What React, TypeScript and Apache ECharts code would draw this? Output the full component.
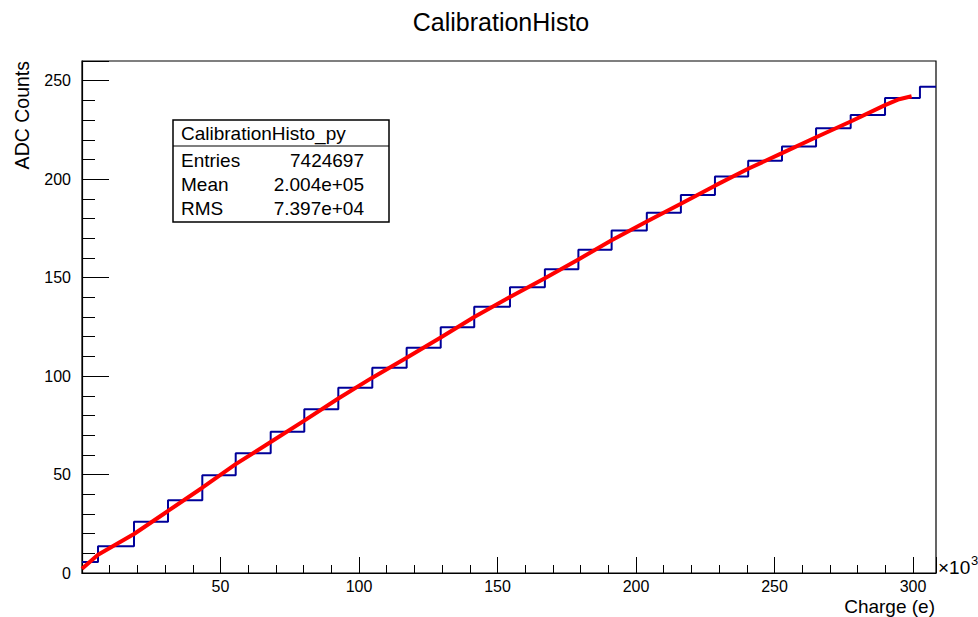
import React, { useEffect, useRef } from "react";
import * as echarts from "echarts";

// ---- Data (charge in units of 10^3 e, ADC counts) ----
const X_MIN = 0;
const X_MAX = 308.3;
const Y_MIN = 0;
const Y_MAX = 260;

// Step (histogram) edges along charge and ADC level of each step
const stepEdges = [5.78, 18.77, 31.05, 43.43, 55.49, 68.12, 80.25, 92.53, 104.8, 117.2, 129.5, 141.6, 154.5, 167.1, 179.2, 191.2, 203.9, 216.2, 228.5, 240.5, 252.7, 265.0, 277.5, 289.9, 302.5];
const stepLevels = [5.6, 13.6, 26.0, 37.0, 49.7, 60.8, 71.7, 83.1, 94.1, 104.2, 114.4, 124.8, 135.2, 145.1, 154.2, 164.1, 173.9, 183.0, 192.0, 201.3, 209.3, 216.6, 225.9, 232.6, 241.2, 246.9];

// Fit curve
const fitX = [0, 5.78, 18.77, 31.05, 43.43, 55.49, 68.12, 80.25, 92.53, 104.8, 117.2, 129.5, 141.6, 154.5, 167.1, 179.2, 191.2, 203.9, 216.2, 228.5, 240.5, 252.7, 265.0, 277.5, 289.9, 295.0, 299.5];
const fitY = [2.2, 9.3, 19.8, 31.5, 43.3, 55.3, 66.5, 77.4, 88.6, 99.2, 109.3, 119.6, 130.0, 140.2, 149.7, 159.2, 169.0, 178.5, 187.5, 196.7, 205.3, 213.2, 221.3, 229.3, 237.6, 240.6, 242.1];

const xTickStep = 50;
const yTickStep = 50;

const chartTitle = "CalibrationHisto";
const xTitle = "Charge (e)";
const yTitle = "ADC Counts";
const statsTitle = "CalibrationHisto_py";
const statsNames = ["Entries", "Mean", "RMS"];
const statsValues = ["7424697", "2.004e+05", "7.397e+04"];

const FONT = "'Liberation Sans', Arial, Helvetica, sans-serif";

export default function App() {
  const ref = useRef<HTMLDivElement>(null);

  useEffect(() => {
    if (!ref.current) return;
    const chart = echarts.init(ref.current, null, { renderer: "svg" });

    const stepData: number[][] = [[X_MIN, stepLevels[0]]];
    stepEdges.forEach((e, i) => stepData.push([e, stepLevels[i + 1]]));
    stepData.push([X_MAX, stepLevels[stepLevels.length - 1]]);

    const fitData = fitX.map((x, i) => [x, fitY[i]]);

    const boxX = 173, boxY = 120, boxW = 216, boxH = 102;
    const statsGraphics: any[] = [
      {
        type: "rect",
        shape: { x: boxX, y: boxY, width: boxW, height: boxH },
        style: { fill: "#fff", stroke: "#000", lineWidth: 1.5 },
        z: 10,
      },
      {
        type: "line",
        shape: { x1: boxX, y1: 146, x2: boxX + boxW, y2: 146 },
        style: { stroke: "#000", lineWidth: 1.2 },
        z: 11,
      },
      {
        type: "text",
        x: 181,
        y: 133,
        style: { text: statsTitle, font: `19px ${FONT}`, fill: "#000", align: "left", verticalAlign: "middle" },
        z: 11,
      },
    ];
    const rowY = [160, 184, 208];
    statsNames.forEach((n, i) => {
      statsGraphics.push({
        type: "text",
        x: 181,
        y: rowY[i],
        style: { text: n, font: `19px ${FONT}`, fill: "#000", align: "left", verticalAlign: "middle" },
        z: 11,
      });
      statsGraphics.push({
        type: "text",
        x: 364,
        y: rowY[i],
        style: { text: statsValues[i], font: `19px ${FONT}`, fill: "#000", align: "right", verticalAlign: "middle" },
        z: 11,
      });
    });

    chart.setOption({
      animation: false,
      backgroundColor: "#fff",
      grid: {
        left: 82,
        right: 42,
        top: 61,
        bottom: 44,
        show: true,
        borderColor: "#000",
        borderWidth: 1.2,
        containLabel: false,
        outerBoundsMode: "none",
      },
      xAxis: {
        type: "value",
        min: X_MIN,
        max: X_MAX,
        interval: xTickStep,
        axisLine: { show: true, lineStyle: { color: "#000", width: 1.2 } },
        axisTick: { show: true, inside: true, length: 16, lineStyle: { color: "#000", width: 1 } },
        minorTick: { show: true, splitNumber: 5, length: 8, lineStyle: { color: "#000", width: 1 } },
        splitLine: { show: false },
        minorSplitLine: { show: false },
        axisLabel: {
          show: true,
          margin: 5,
          fontSize: 16,
          color: "#000",
          fontFamily: FONT,
          showMaxLabel: false,
          formatter: (v: number) => (v > 0 && v % xTickStep === 0 ? String(v) : ""),
        },
      },
      yAxis: {
        type: "value",
        min: Y_MIN,
        max: Y_MAX,
        interval: yTickStep,
        axisLine: { show: true, lineStyle: { color: "#000", width: 1.2 } },
        axisTick: { show: true, inside: true, length: 27, lineStyle: { color: "#000", width: 1 } },
        minorTick: { show: true, splitNumber: 5, length: 13, lineStyle: { color: "#000", width: 1 } },
        splitLine: { show: false },
        minorSplitLine: { show: false },
        axisLabel: {
          show: true,
          margin: 11,
          fontSize: 16,
          color: "#000",
          fontFamily: FONT,
          showMaxLabel: false,
          formatter: (v: number) => (v % yTickStep === 0 ? String(v) : ""),
        },
      },
      series: [
        {
          type: "line",
          name: "histo",
          data: stepData,
          step: "end",
          showSymbol: false,
          symbol: "none",
          lineStyle: { color: "#000099", width: 2 },
          z: 2,
        },
        {
          type: "line",
          name: "fit",
          data: fitData,
          showSymbol: false,
          symbol: "none",
          smooth: false,
          lineStyle: { color: "#ff0000", width: 4 },
          z: 3,
        },
      ],
      graphic: [
        {
          type: "text",
          x: 501,
          y: 22,
          style: { text: chartTitle, font: `25px ${FONT}`, fill: "#000", align: "center", verticalAlign: "middle" },
        },
        {
          type: "text",
          x: 935,
          y: 606,
          style: { text: xTitle, font: `19px ${FONT}`, fill: "#000", align: "right", verticalAlign: "middle" },
        },
        {
          type: "text",
          x: 22,
          y: 61,
          rotation: Math.PI / 2,
          style: { text: yTitle, font: `19.5px ${FONT}`, fill: "#000", align: "right", verticalAlign: "middle" },
        },
        {
          type: "text",
          x: 938,
          y: 567,
          style: { text: "×10", font: `19px ${FONT}`, fill: "#000", align: "left", verticalAlign: "middle" },
        },
        {
          type: "text",
          x: 971,
          y: 560,
          style: { text: "3", font: `13px ${FONT}`, fill: "#000", align: "left", verticalAlign: "middle" },
        },
        ...statsGraphics,
      ],
    });

    return () => chart.dispose();
  }, []);

  return (
    <div
      ref={ref}
      style={{ position: "fixed", left: 0, top: 0, width: 978, height: 617, background: "#fff" }}
    />
  );
}
